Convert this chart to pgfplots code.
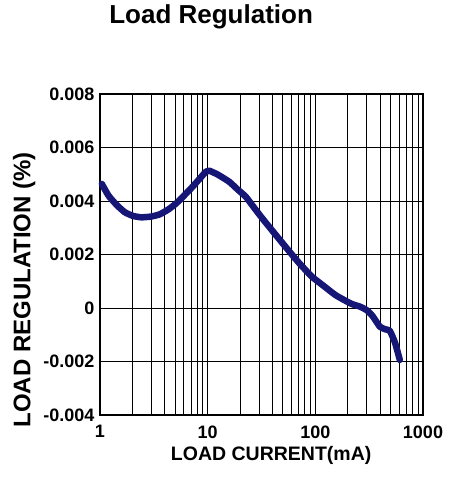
\documentclass[border=0pt]{standalone}
\usepackage{fontspec}
\setmainfont{Liberation Sans}
\usepackage{pgfplots}
\pgfplotsset{compat=1.18}
\definecolor{curve}{RGB}{22,22,118}
\begin{document}
\begin{tikzpicture}[x=1pt,y=1pt]
\begin{axis}[
  at={(0,0)}, anchor=south west,
  scale only axis, width=323pt, height=321pt,
  xmode=log, xmin=1, xmax=1000,
  ymin=-0.004, ymax=0.008,
  scaled y ticks=false,
  xtick={1,10,100,1000}, xticklabels={1,10,100,1000},
  ytick={-0.004,-0.002,0,0.002,0.004,0.006,0.008},
  yticklabels={-0.004,-0.002,0,0.002,0.004,0.006,0.008},
  minor xtick={2,3,4,5,6,7,8,9,20,30,40,50,60,70,80,90,200,300,400,500,600,700,800,900},
  grid=both,
  major grid style={black, line width=0.9pt},
  minor grid style={black, line width=0.9pt},
  axis line style={black, line width=1.4pt},
  tick style={black, line width=0.9pt},
  major tick length=0pt, minor tick length=0pt,
  ticklabel style={font=\fontsize{18}{18}\selectfont\bfseries},
  xticklabel style={yshift=-7pt},
  yticklabel style={xshift=-2pt},
  xlabel={LOAD CURRENT(mA)},
  ylabel={LOAD REGULATION (\%)},
  xlabel style={font=\fontsize{19.5}{19.5}\selectfont\bfseries, at={(axis description cs:0.53,-0.125)}, anchor=center},
  ylabel style={font=\fontsize{24}{24}\selectfont\bfseries, at={(axis description cs:-0.235,0.39)}, anchor=center, rotate=0},
  clip=false,
]
\addplot[curve, line width=6.5pt, line join=round, line cap=round, smooth, tension=0.3] coordinates {
(1.04,0.00464)
(1.2,0.0042)
(1.43,0.00385)
(1.7,0.00358)
(2.03,0.00344)
(2.43,0.00339)
(3.0,0.00342)
(3.58,0.0035)
(4.3,0.00368)
(5.1,0.00391)
(6.1,0.00422)
(7.27,0.00454)
(8.5,0.00485)
(9.66,0.0051)
(10.4,0.00513)
(12.5,0.00498)
(15.85,0.00472)
(19,0.00443)
(22.6,0.00416)
(27,0.00375)
(32.2,0.00335)
(41,0.00283)
(52.8,0.00229)
(70,0.00170)
(93,0.00117)
(120,0.00082)
(153,0.00049)
(185,0.00030)
(218,0.00015)
(260,0.00005)
(300,-0.00008)
(340,-0.0003)
(398,-0.0007)
(450,-0.0008)
(492,-0.00085)
(550,-0.0013)
(609,-0.00194)
};
\node[font=\fontsize{26}{26}\selectfont\bfseries, anchor=center] at (axis description cs:0.344,1.24) {Load Regulation};
\end{axis}
\pgfresetboundingbox
\useasboundingbox (-100pt,-68pt) rectangle (362pt,415pt);
\end{tikzpicture}
\end{document}
